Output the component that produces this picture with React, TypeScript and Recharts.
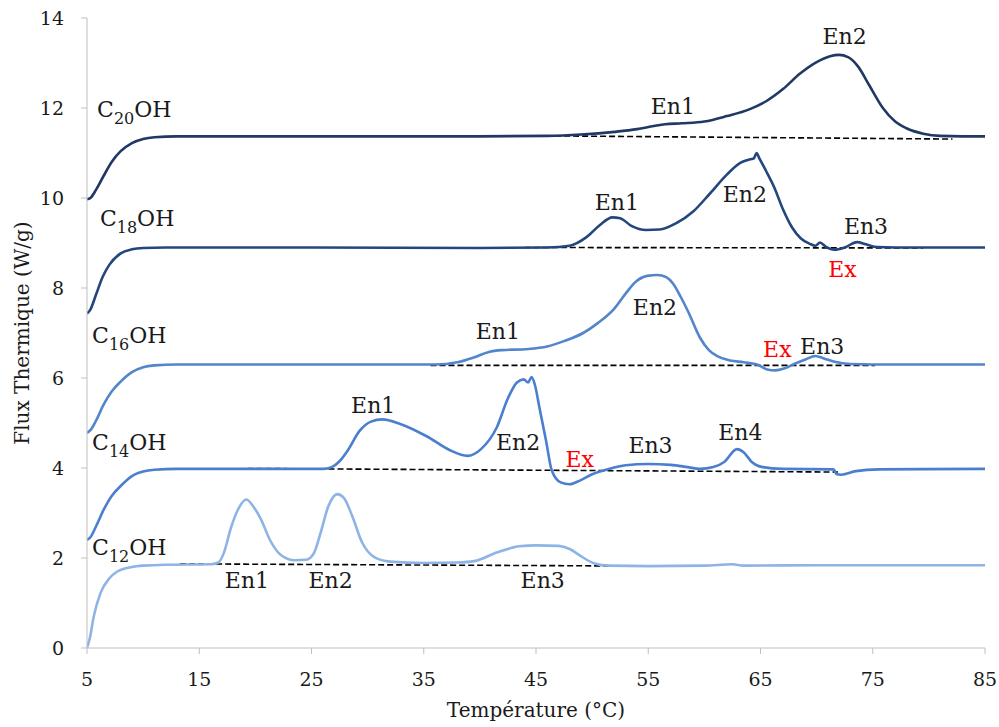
import React from 'react';
import { ComposedChart, Line, XAxis, YAxis, ReferenceDot } from 'recharts';

// [temperature °C, heat flux W/g]
const c20Flux: [number, number][] = [
  [5, 9.97], [5.3, 10.0], [5.8, 10.18], [6.5, 10.5], [7.2, 10.8], [8, 11.04], [9, 11.22], [10, 11.31], [11, 11.35],
  [13, 11.37], [25, 11.37], [40, 11.37], [46, 11.38], [49, 11.41], [52, 11.47], [54, 11.53],
  [55.5, 11.6], [56.5, 11.64], [58, 11.66], [60, 11.7], [62, 11.82], [64, 11.97], [65.5, 12.15],
  [67, 12.42], [68.5, 12.76], [70, 13.02], [71.2, 13.15], [72, 13.18], [72.8, 13.13], [73.7, 12.92],
  [74.7, 12.5], [75.9, 12.0], [77, 11.7], [78, 11.55], [79.5, 11.43], [81, 11.38], [83, 11.37], [85, 11.37],
];

const c18Flux: [number, number][] = [
  [5, 7.43], [5.3, 7.52], [5.8, 7.85], [6.4, 8.25], [7, 8.52], [8, 8.77], [9, 8.86], [10, 8.89], [12, 8.9], [25, 8.9],
  [40, 8.89], [46, 8.9], [48, 8.94], [49.5, 9.13], [50.7, 9.4], [51.8, 9.57], [52.5, 9.55], [53.5, 9.38],
  [54.8, 9.29], [56, 9.3], [57.5, 9.44], [59, 9.7], [60.5, 10.1], [62, 10.52], [63.2, 10.78], [64.1, 10.86],
  [64.4, 10.88], [64.65, 11.0], [64.9, 10.88], [65.5, 10.6], [66.2, 10.25], [67, 9.75], [67.8, 9.35],
  [68.6, 9.1], [69.4, 8.98], [69.9, 8.94], [70.3, 9.01], [70.8, 8.92], [71.6, 8.85], [72.5, 8.9],
  [73.6, 9.02], [74.4, 8.97], [75.4, 8.91], [77, 8.9], [85, 8.9],
];

const c16Flux: [number, number][] = [
  [5, 4.78], [5.3, 4.84], [5.8, 5.05], [6.5, 5.42], [7.2, 5.7], [8, 5.92], [9, 6.13], [10, 6.24], [11, 6.28], [13, 6.3],
  [25, 6.3], [36, 6.3], [38, 6.35], [39.5, 6.46], [40.8, 6.58], [42, 6.62], [44, 6.64], [46, 6.7],
  [47.5, 6.82], [49.2, 7.0], [50.5, 7.22], [51.9, 7.52], [53, 7.88], [53.8, 8.12], [54.9, 8.27],
  [55.8, 8.29], [56.6, 8.24], [57.2, 8.1], [57.9, 7.8], [58.6, 7.45], [59.6, 6.9], [60.4, 6.62],
  [61.2, 6.48], [62.3, 6.39], [63.5, 6.35], [64.8, 6.29], [65.6, 6.19], [66.3, 6.17], [67.1, 6.21],
  [68, 6.31], [69, 6.41], [69.9, 6.49], [70.7, 6.43], [71.6, 6.36], [73, 6.31], [75, 6.3], [85, 6.3],
];

const c14Flux: [number, number][] = [
  [5, 2.4], [5.3, 2.46], [5.8, 2.7], [6.5, 3.08], [7.2, 3.38], [8, 3.6], [9, 3.82], [10, 3.92], [11, 3.96], [13, 3.98],
  [20, 3.98], [26, 3.98], [26.8, 4.02], [27.5, 4.15], [28.2, 4.38], [29.3, 4.83], [30.3, 5.03], [31.3, 5.08], [32.9, 4.98],
  [35.3, 4.7], [37.3, 4.4], [38.9, 4.27], [40.1, 4.42], [41.5, 4.9], [42.5, 5.55], [43.3, 5.9], [43.9, 5.97],
  [44.3, 5.9], [44.6, 6.02], [44.9, 5.85], [45.3, 5.35], [45.9, 4.6], [46.4, 3.95], [47.2, 3.68], [48.0, 3.64],
  [48.9, 3.72], [50, 3.86], [51.5, 3.98], [53, 4.06], [55, 4.09], [57, 4.07], [58.5, 4.02], [59.6, 3.98],
  [60.8, 4.02], [61.8, 4.14], [62.9, 4.42], [63.5, 4.35], [64.2, 4.14], [65.2, 4.02], [67, 3.98],
  [71.5, 3.97], [71.8, 3.86], [72.2, 3.85], [73.5, 3.93], [75.5, 3.97], [85, 3.98],
];

const c12Flux: [number, number][] = [
  [5, 0], [5.25, 0.22], [5.6, 0.7], [6.2, 1.22], [7, 1.55], [7.7, 1.7], [9, 1.8], [10, 1.83], [12, 1.85],
  [16, 1.86], [16.7, 1.9], [17.2, 2.12], [17.8, 2.65], [18.5, 3.1], [19.2, 3.3], [19.8, 3.15], [20.5, 2.86], [21.3, 2.4],
  [22.3, 2.06], [23.5, 1.95], [24.5, 1.96], [25.2, 2.1], [25.8, 2.55], [26.5, 3.15], [27.3, 3.42],
  [27.9, 3.33], [28.6, 2.95], [29.5, 2.35], [30.6, 2.02], [32, 1.92], [35, 1.89], [38, 1.9], [39.5, 1.93],
  [41.5, 2.12], [43.5, 2.26], [45, 2.28], [47, 2.27], [48, 2.2], [49, 2.04], [50.2, 1.88], [51.5, 1.83],
  [55, 1.82], [60, 1.83], [62.5, 1.86], [63.5, 1.83], [70, 1.84], [85, 1.84],
];

// dashed integration baselines: [start, end]
const c20Base: [number, number][] = [[46.7, 11.38], [82.1, 11.31]];
const c18Base: [number, number][] = [[44.0, 8.9], [79.5, 8.89]];
const c16Base: [number, number][] = [[35.6, 6.28], [75.2, 6.28]];
const c14Base: [number, number][] = [[19.3, 3.99], [71.9, 3.91]];
const c12Base: [number, number][] = [[13.3, 1.87], [55, 1.82]];

const xTicks = [5, 15, 25, 35, 45, 55, 65, 75, 85];
const yTicks = [0, 2, 4, 6, 8, 10, 12, 14];

// series names: [temp, flux, carbon count]
const seriesNames: [number, number, string][] = [
  [5.9, 11.8, '20'], [6.15, 9.38, '18'], [5.45, 6.78, '16'], [5.45, 4.4, '14'], [5.45, 2.07, '12'],
];

// peak annotations: [temp, flux, text]
const peakLabels: [number, number, string][] = [
  [57.2, 12.04, 'En1'], [72.5, 13.58, 'En2'],
  [52.2, 9.89, 'En1'], [63.6, 10.07, 'En2'], [74.4, 9.36, 'En3'], [72.3, 8.42, 'Ex'],
  [41.6, 7.04, 'En1'], [55.6, 7.56, 'En2'], [66.5, 6.64, 'Ex'], [70.5, 6.71, 'En3'],
  [30.5, 5.4, 'En1'], [43.4, 4.56, 'En2'], [48.9, 4.2, 'Ex'], [55.2, 4.51, 'En3'], [63.2, 4.78, 'En4'],
  [19.25, 1.51, 'En1'], [26.7, 1.51, 'En2'], [45.6, 1.51, 'En3'],
];

const FONT = '"DejaVu Serif", serif';
const AXIS = '#bfbfbf';
const TXT = '#1a1a1a';

const toRows = (pts: [number, number][]) => pts.map(([t, f]) => ({ t, f }));

const curves = [
  { id: 'c20', pts: c20Flux, color: '#1f3864' },
  { id: 'c18', pts: c18Flux, color: '#23467c' },
  { id: 'c16', pts: c16Flux, color: '#5285cc' },
  { id: 'c14', pts: c14Flux, color: '#4a7fcf' },
  { id: 'c12', pts: c12Flux, color: '#8db4e4' },
];
const baselines = [c20Base, c18Base, c16Base, c14Base, c12Base];

export default function App() {
  return (
    <div style={{ position: 'absolute', left: 0, top: 0, background: '#fff' }}>
      <ComposedChart width={999} height={727} margin={{ top: 18, right: 14, bottom: 4, left: 0 }} style={{ fontFamily: FONT }}>
        <XAxis
          dataKey="t"
          type="number"
          domain={[5, 85]}
          ticks={xTicks}
          allowDataOverflow
          height={75}
          stroke={AXIS}
          tickSize={6}
          tickMargin={19}
          tick={{ fontSize: 19, fill: TXT, fontFamily: FONT }}
          label={{ value: 'Température (°C)', position: 'insideBottom', offset: 6, style: { fontSize: 20, fill: TXT, fontFamily: FONT } }}
        />
        <YAxis
          type="number"
          domain={[0, 14]}
          ticks={yTicks}
          width={87}
          stroke={AXIS}
          tickSize={6}
          tickMargin={17}
          tick={{ fontSize: 19, fill: TXT, fontFamily: FONT }}
          label={{ value: 'Flux Thermique (W/g)', angle: -90, position: 'insideLeft', offset: 22, style: { textAnchor: 'middle', fontSize: 20, fill: TXT, fontFamily: FONT } }}
        />
        {baselines.map((b, i) => (
          <Line key={'b' + i} data={toRows(b)} dataKey="f" type="linear" stroke="#000" strokeWidth={1.6}
            strokeDasharray="6 3" dot={false} activeDot={false} isAnimationActive={false} />
        ))}
        {curves.map((c) => (
          <Line key={c.id} data={toRows(c.pts)} dataKey="f" type="monotone" stroke={c.color} strokeWidth={2.6}
            dot={false} activeDot={false} isAnimationActive={false} />
        ))}
        {seriesNames.map(([t, f, n]) => (
          <ReferenceDot key={'n' + n} x={t} y={f} r={1} ifOverflow="visible"
            shape={(p: any) => (
              <text x={p.cx} y={p.cy} fontFamily={FONT} fontSize={22} fill={TXT}>
                <tspan>C</tspan>
                <tspan dy={7} fontSize={16}>{n}</tspan>
                <tspan dy={-7}>OH</tspan>
              </text>
            )}
          />
        ))}
        {peakLabels.map(([t, f, s], i) => (
          <ReferenceDot key={'p' + i} x={t} y={f} r={1} ifOverflow="visible"
            shape={(p: any) => (
              <text x={p.cx} y={p.cy} textAnchor="middle" dominantBaseline="central" fontFamily={FONT}
                fontSize={22} fill={s === 'Ex' ? '#ff0000' : TXT}>{s}</text>
            )}
          />
        ))}
      </ComposedChart>
    </div>
  );
}
